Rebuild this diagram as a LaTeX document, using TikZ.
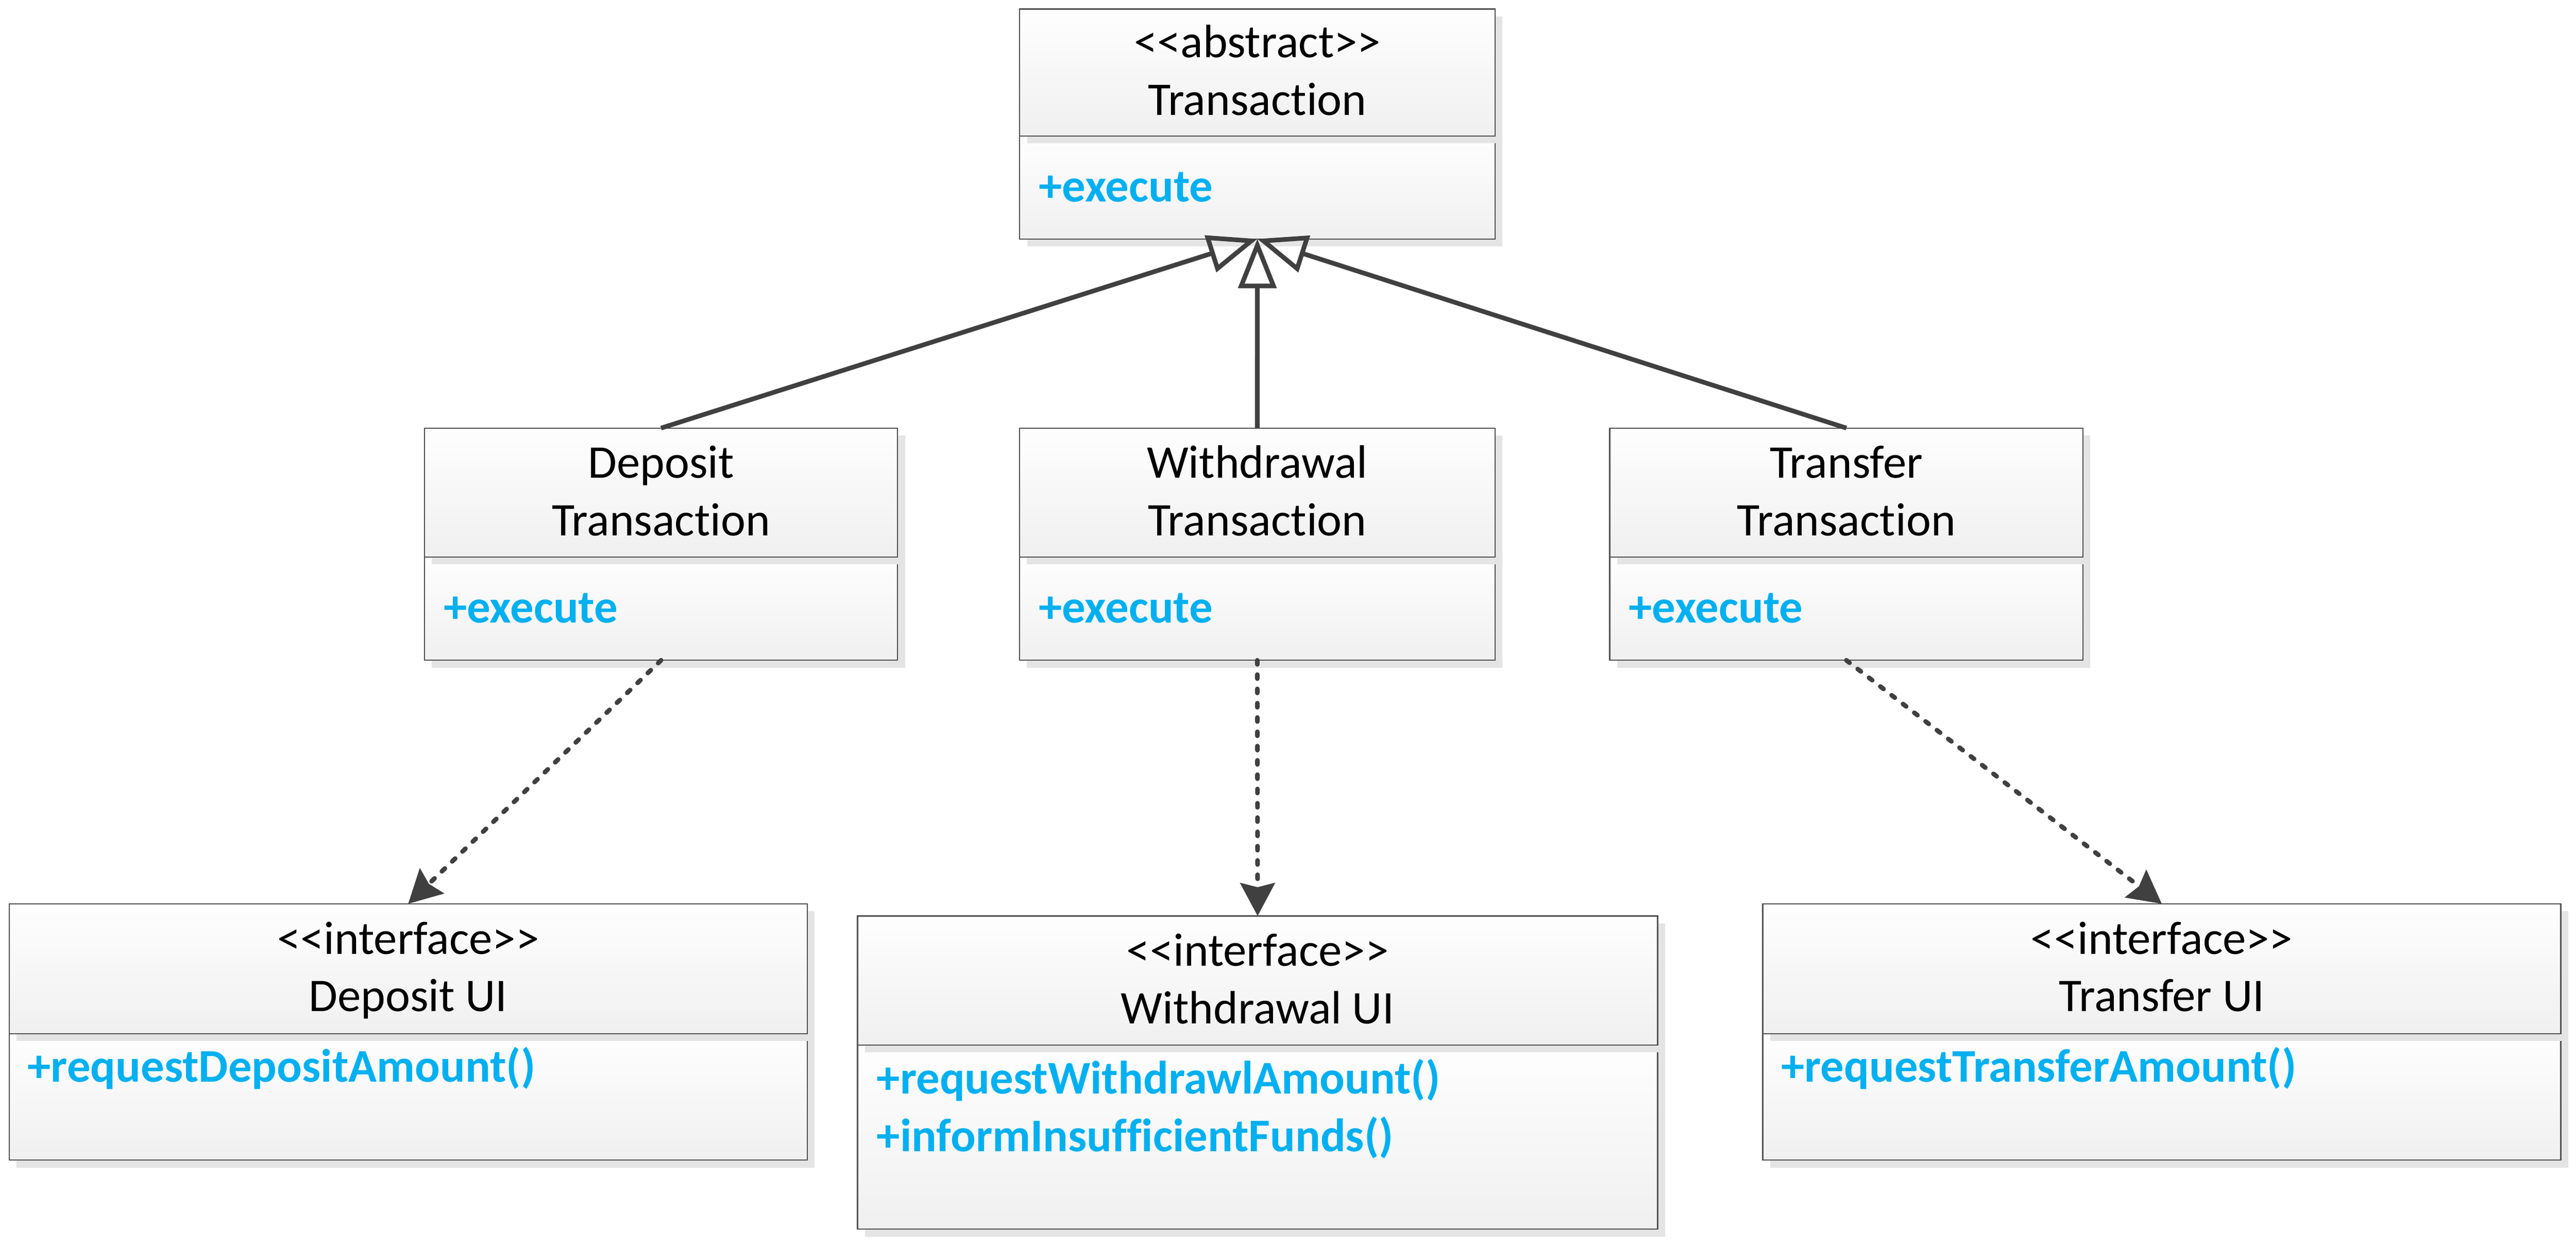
\documentclass[tikz,border=0pt]{standalone}
\usepackage{fontspec}
\setmainfont{Carlito}[Ligatures={TeXOff,CommonOff}]
\usepackage{tikz}
\usetikzlibrary{arrows.meta}
\usetikzlibrary{shadows}
\usetikzlibrary{positioning}
\definecolor{boxtop}{RGB}{254, 254, 254}
\definecolor{boxbottom}{RGB}{240, 240, 240}
\definecolor{boxline}{RGB}{80, 80, 80}
\definecolor{shadowgray}{RGB}{228, 228, 228}
\definecolor{linegray}{RGB}{64, 64, 64}
\definecolor{umlblue}{RGB}{0, 176, 240}

\tikzset{
  compartment/.style={draw=boxline, line width=0.7pt, top color=boxtop, bottom color=boxbottom,
    anchor=north west, inner sep=0pt, outer sep=0pt,
    drop shadow={shadow xshift=4.5pt, shadow yshift=-4.5pt, fill=shadowgray, opacity=1}},
  classname/.style={anchor=base, inner sep=0pt, font=\fontsize{28.5}{35}\selectfont},
  member/.style={anchor=base west, inner sep=0pt, text=umlblue, font=\fontsize{28.5}{35}\selectfont\bfseries},
  inherit/.style={draw=linegray, line width=2.8pt, line join=round,
    -{Triangle[open, length=30pt, width=23pt]}},
  realize/.style={draw=linegray, line width=2.8pt, line cap=round, dash pattern=on 2.5pt off 6.2pt,
    -{Stealth[length=20pt, width=21pt, inset=2.5pt]}}
}

\begin{document}
\begin{tikzpicture}[x=1pt, y=-1pt]
            \useasboundingbox (0, 0) rectangle (1568, 757);
            % abstract class
            \node[compartment, minimum width=289.3pt, minimum height=62.7pt] (transops) at (620.7, 82.7) {};
            \node[compartment, minimum width=289.3pt, minimum height=77.2pt] (trans)    at (620.7,  5.5) {};
            \node[classname] (trans-st)   at ([yshift=-29.5pt]trans.north) {<<abstract>>};
            \node[classname] (trans-name) at ([yshift=-64.5pt]trans.north) {Transaction};
            \node[member]    (trans-exec) at ([xshift=11.5pt, yshift=-40pt]transops.north west) {+execute};
            % concrete transactions
            \node[compartment, minimum width=288pt,   minimum height=62.8pt] (depops) at (258.4, 339) {};
            \node[compartment, minimum width=288pt,   minimum height=78.5pt] (dep)    at (258.4, 260.5) {};
            \node[classname] (dep-name1) at ([yshift=-30.5pt]dep.north) {Deposit};
            \node[classname] (dep-name2) at ([yshift=-65.5pt]dep.north) {Transaction};
            \node[member]    (dep-exec)  at ([xshift=11.5pt, yshift=-40pt]depops.north west) {+execute};
            \node[compartment, minimum width=289.4pt, minimum height=62.8pt] (wdrops) at (620.6, 339) {};
            \node[compartment, minimum width=289.4pt, minimum height=78.5pt] (wdr)    at (620.6, 260.5) {};
            \node[classname] (wdr-name1) at ([yshift=-30.5pt]wdr.north) {Withdrawal};
            \node[classname] (wdr-name2) at ([yshift=-65.5pt]wdr.north) {Transaction};
            \node[member]    (wdr-exec)  at ([xshift=11.5pt, yshift=-40pt]wdrops.north west) {+execute};
            \node[compartment, minimum width=288.1pt, minimum height=62.8pt] (trfops) at (979.8, 339) {};
            \node[compartment, minimum width=288.1pt, minimum height=78.5pt] (trf)    at (979.8, 260.5) {};
            \node[classname] (trf-name1) at ([yshift=-30.5pt]trf.north) {Transfer};
            \node[classname] (trf-name2) at ([yshift=-65.5pt]trf.north) {Transaction};
            \node[member]    (trf-exec)  at ([xshift=11.5pt, yshift=-40pt]trfops.north west) {+execute};
            % interfaces
            \node[compartment, minimum width=485.7pt, minimum height=77pt]  (depuiops) at (5.6, 629) {};
            \node[compartment, minimum width=485.7pt, minimum height=79pt]  (depui)    at (5.6, 550) {};
            \node[classname] (depui-st)   at ([yshift=-30.5pt]depui.north) {<<interface>>};
            \node[classname] (depui-name) at ([yshift=-65.5pt]depui.north) {Deposit UI};
            \node[member]    (depui-req)  at ([xshift=11pt, yshift=-29.3pt]depuiops.north west) {+requestDepositAmount()};
            \node[compartment, minimum width=487pt,   minimum height=112pt] (wdruiops) at (522, 636) {};
            \node[compartment, minimum width=487pt,   minimum height=78.6pt] (wdrui)   at (522, 557.4) {};
            \node[classname] (wdrui-st)   at ([yshift=-30.5pt]wdrui.north) {<<interface>>};
            \node[classname] (wdrui-name) at ([yshift=-65.5pt]wdrui.north) {Withdrawal UI};
            \node[member]    (wdrui-req)  at ([xshift=11.5pt, yshift=-29.6pt]wdruiops.north west) {+requestWithdrawlAmount()};
            \node[member]    (wdrui-inf)  at ([xshift=11.5pt, yshift=-64.6pt]wdruiops.north west) {+informInsufficientFunds()};
            \node[compartment, minimum width=485.7pt, minimum height=77pt]  (trfuiops) at (1073, 629) {};
            \node[compartment, minimum width=485.7pt, minimum height=79pt]  (trfui)    at (1073, 550) {};
            \node[classname] (trfui-st)   at ([yshift=-30.5pt]trfui.north) {<<interface>>};
            \node[classname] (trfui-name) at ([yshift=-65.5pt]trfui.north) {Transfer UI};
            \node[member]    (trfui-req)  at ([xshift=11pt, yshift=-29.3pt]trfuiops.north west) {+requestTransferAmount()};
            % generalisation
            \draw[inherit] (dep.north) -- (transops.south);
            \draw[inherit] (wdr.north) -- (transops.south);
            \draw[inherit] (trf.north) -- (transops.south);
            % dependencies
            \draw[realize] (depops.south) -- (depui.north);
            \draw[realize] (wdrops.south) -- (wdrui.north);
            \draw[realize] (trfops.south) -- (trfui.north);
\end{tikzpicture}
\end{document}
